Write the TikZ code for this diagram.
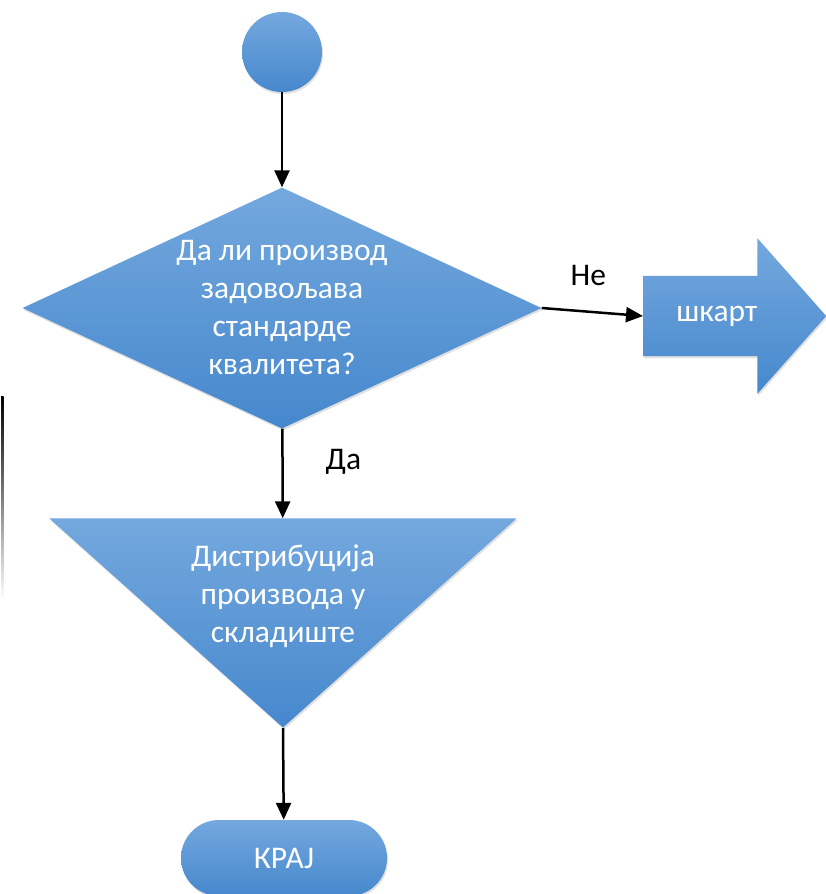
\documentclass[tikz,border=0pt]{standalone}
\usepackage{fontspec}
\setmainfont{Carlito}
\usetikzlibrary{shapes.geometric,shapes.arrows,arrows.meta,shadows}
\definecolor{shapetop}{RGB}{116,168,222}
\definecolor{shapebot}{RGB}{70,136,205}
\tikzset{
  big font/.style={font=\fontsize{31.5}{38}\selectfont},
  blue shape/.style={top color=shapetop, bottom color=shapebot, draw=none,
    text=white, big font, align=center, inner sep=0pt,
    drop shadow={opacity=0.25, shadow xshift=1pt, shadow yshift=-2pt}},
  flow/.style={draw, line width=2.5pt, -{Triangle[length=17pt,width=15pt]}},
  flow label/.style={big font, text=black},
}
\begin{document}
\begin{tikzpicture}[x=1pt,y=-1pt]
\useasboundingbox (0,0) rectangle (826,894);
\node[blue shape, circle, minimum size=80pt] (start) at (282,52) {};
\node[blue shape, diamond, aspect=2.15, minimum width=519pt, minimum height=241pt] (check) at (282,308) {Да ли производ\\задовољава\\стандарде\\квалитета?};
\node[blue shape, single arrow, single arrow head extend=37.5pt, single arrow tip angle=97, text height=15pt, text depth=5pt, inner ysep=30pt, minimum height=183pt, anchor=tail] (scrap) at (643,316) {шкарт};
\node[blue shape, isosceles triangle, shape border rotate=270, isosceles triangle stretches, minimum width=467pt, minimum height=209pt, anchor=apex] (store) at (283,728) {};
\node[text=white, big font, align=center] (storetext) at (283,596) {Дистрибуција\\производа у\\складиште};
\node[blue shape, rectangle, rounded corners=38pt, minimum width=206pt, minimum height=76pt] (end) at (284,858) {КРАЈ};
% stray edge on the left
\shade[top color=black, bottom color=white] (1,396) rectangle (3.5,600);
\path[flow] (start) -- (check);
\path[flow] (check.east) -- node[label={[flow label, label distance=17pt, xshift=-4pt]above:Не}] {} (scrap.tail);
\path[flow] (check) -- node[label={[flow label, label distance=34pt, yshift=12pt]right:Да}] {} (store);
\path[flow] (store.apex) -- (end);
\end{tikzpicture}
\end{document}
